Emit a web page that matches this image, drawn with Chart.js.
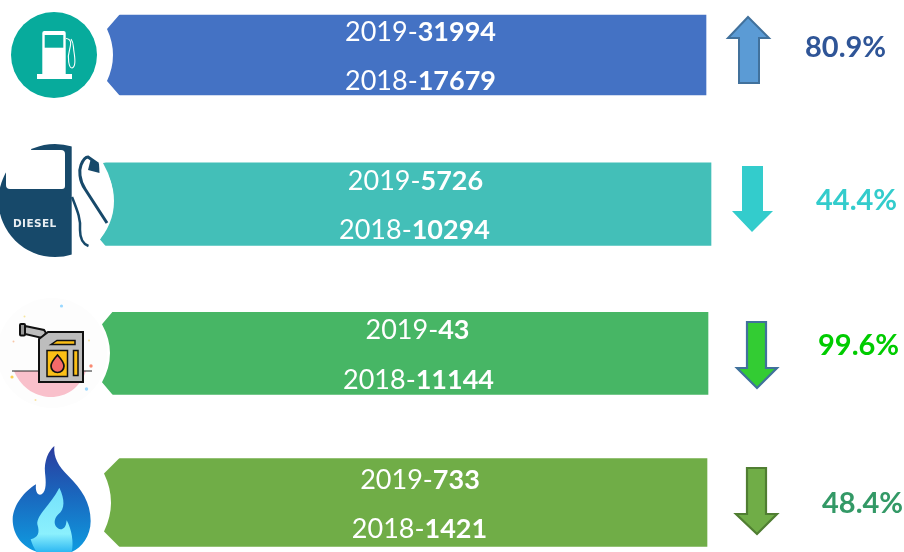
<!DOCTYPE html>
<html><head><meta charset="utf-8">
<style>html,body{margin:0;padding:0;background:#fff}#wrap{width:904px;height:552px;position:relative}</style>
<script src="https://cdn.jsdelivr.net/npm/chart.js@4"></script>
</head><body><div id="wrap"><canvas id="c" width="904" height="552"></canvas></div>
<script>
// ---- data ----
const categories = ['Petrol', 'Diesel', 'Furnace oil', 'Gas'];
const values2019 = [31994, 5726, 43, 733];
const values2018 = [17679, 10294, 11144, 1421];
const changeLabels = ['80.9%', '44.4%', '99.6%', '48.4%'];
const panelShare = [1, 1, 1, 1]; // every panel is a full-width label band, not a scaled bar

// ---- styling kept apart from the data ----
const panelColors = ['#4472c4', '#43bfb8', '#47b665', '#70ad47'];
const panelHeights = [80, 82.5, 82, 88];
const panelRightInset = [5, 0, 3, 4];
const notches = [
  {tipX:107, chamX:120, chamY:14, bulge:113},
  {tipX:100, chamX:106, chamY:6,  bulge:114},
  {tipX:102, chamX:113, chamY:12, bulge:110},
  {tipX:104, chamX:120, chamY:15, bulge:111}
];
const textCenters = [[420.5,420.5],[415.5,414.5],[417.5,418.5],[420,419.5]];
const textOffsets = [[-23,26],[-23,26],[-23,27],[-23,26]];
const pctStyle = [
  {x:805, y:48,  c:'#2f5597'},
  {x:816, y:201, c:'#33cccc'},
  {x:818, y:346, c:'#00cc00'},
  {x:822, y:504, c:'#339966'}
];
const arrowStyle = [
  {sx:[739,759], hx:[728,769], tail:83,  head:38,  tip:[748,17],  fill:'#5b9bd5', stroke:'#41719c', lw:2},
  {sx:[742,763], hx:[732,773], tail:166, head:211, tip:[752,232], fill:'#33cccc', stroke:null, lw:0},
  {sx:[747,766], hx:[737,777], tail:322, head:368, tip:[757,388], fill:'#33cc33', stroke:'#41719c', lw:2.2},
  {sx:[747,766], hx:[736,777], tail:468, head:514, tip:[757,534], fill:'#70ad47', stroke:'#507e32', lw:2.2}
];
const FONT = 'Lato';
const TEXT_SIZE = 27;
const PCT_SIZE = 29;

function poly(ctx, pts){ ctx.beginPath(); pts.forEach((p,i)=> i?ctx.lineTo(p[0],p[1]):ctx.moveTo(p[0],p[1])); ctx.closePath(); }

function drawIcons(ctx){
  // 1. petrol pump
  ctx.fillStyle='#07ab9c'; ctx.beginPath(); ctx.arc(54,55,43,0,Math.PI*2); ctx.fill();
  ctx.fillStyle='#fff';
  ctx.beginPath(); ctx.roundRect(42.3,31,23.4,44,[2,2,0,0]); ctx.fill();
  ctx.fillRect(37,74,35,5);
  ctx.fillStyle='#07ab9c'; ctx.fillRect(44.7,35,18.6,12.7);
  ctx.strokeStyle='#fff'; ctx.lineWidth=1.1;
  ctx.beginPath(); ctx.moveTo(66,38.5); ctx.bezierCurveTo(72,39,71,44,69.5,50); ctx.bezierCurveTo(67,58,69,68,72,68); ctx.bezierCurveTo(76,67,75,58,74,52); ctx.bezierCurveTo(73,46,74,43,71,39); ctx.stroke();

  // 2. diesel pump
  ctx.fillStyle='#fff'; ctx.beginPath(); ctx.arc(55,201,59,0,Math.PI*2); ctx.fill();
  ctx.save(); ctx.beginPath(); ctx.rect(0,140,71.7,120); ctx.clip();
  ctx.fillStyle='#17496a'; ctx.beginPath(); ctx.arc(55,200.5,56.5,0,Math.PI*2); ctx.fill();
  ctx.fillStyle='#fff'; ctx.beginPath(); ctx.roundRect(6,150,59,39,[0,4,3,4]); ctx.fill();
  ctx.fillRect(0,140,31,32);
  ctx.restore();
  ctx.strokeStyle='#17496a'; ctx.lineCap='butt'; ctx.lineWidth=2.5;
  ctx.beginPath(); ctx.moveTo(72,197); ctx.bezierCurveTo(78,212,81,220,80,230); ctx.bezierCurveTo(80,238,83,244,88.5,246); ctx.stroke();
  ctx.lineWidth=3;
  ctx.beginPath(); ctx.moveTo(107,223); ctx.lineTo(85,189); ctx.bezierCurveTo(79,180,79,170,81,165); ctx.bezierCurveTo(83,160,85,157,88,157); ctx.lineTo(98,164); ctx.stroke();
  ctx.fillStyle='#17496a'; poly(ctx,[[88,170],[90.5,160],[99,163.5],[99.5,173]]); ctx.fill();
  ctx.fillStyle='#e8eef2'; ctx.font='bold 10.5px "DejaVu Sans"'; ctx.textAlign='left'; ctx.textBaseline='middle';
  ctx.letterSpacing='0.4px'; ctx.fillText('DIESEL',13,224); ctx.letterSpacing='0px';

  // 3. jerry can
  ctx.fillStyle='#fdfdfd'; ctx.beginPath(); ctx.arc(52,353,55,0,Math.PI*2); ctx.fill();
  ctx.fillStyle='#f9c0cb'; ctx.beginPath(); ctx.moveTo(14,371); ctx.bezierCurveTo(22,390,38,397,51,397); ctx.bezierCurveTo(66,397,80,388,86,371); ctx.closePath(); ctx.fill();
  ctx.strokeStyle='#222'; ctx.lineWidth=1; ctx.beginPath(); ctx.moveTo(12,371); ctx.lineTo(92,371); ctx.stroke();
  ctx.strokeStyle='#111'; ctx.lineWidth=2; ctx.fillStyle='#bdbdbd';
  poly(ctx,[[25,326],[44,330],[46,333],[42,338],[25,334]]); ctx.fill(); ctx.stroke();
  ctx.fillStyle='#999'; ctx.beginPath(); ctx.roundRect(20,324,5,11.5,1); ctx.fill(); ctx.stroke();
  ctx.fillStyle='#bdbdbd'; poly(ctx,[[39,339],[48,332],[83,332],[83,382],[39,382]]); ctx.fill(); ctx.stroke();
  ctx.fillStyle='#fbbf16'; ctx.lineWidth=1.5; ctx.fillRect(47,350.5,20.5,26); ctx.strokeRect(47,350.5,20.5,26);
  ctx.fillRect(73.5,350.5,4.5,25); ctx.strokeRect(73.5,350.5,4.5,25);
  poly(ctx,[[51,344.5],[57,340.5],[75,340.5],[75,344.5]]); ctx.fill(); ctx.stroke();
  ctx.fillStyle='#f46a6a'; ctx.lineWidth=1.7; ctx.beginPath(); ctx.moveTo(57.5,355); ctx.bezierCurveTo(62,360,64,363,64,366); ctx.arc(57.5,366,6.5,0,Math.PI); ctx.bezierCurveTo(51,363,53,360,57.5,355); ctx.closePath(); ctx.fill(); ctx.stroke();
  [[61.5,306,'#9ad8ff',1.6],[24.5,316.5,'#f5e6a0',1],[13.5,341.5,'#f7c6a8',1],[89,340.5,'#f9e3a0',1],[91,366,'#f98a72',1.7],[12,377,'#fcd050',1.6],[86.5,389,'#9ad8ff',1.7],[35.5,400,'#f9e3a0',1]].forEach(d=>{ctx.fillStyle=d[2];ctx.beginPath();ctx.arc(d[0],d[1],d[3],0,Math.PI*2);ctx.fill();});

  // 4. flame
  ctx.save(); ctx.translate(0,276); ctx.scale(1/3,1/3);
  const g=ctx.createLinearGradient(0,510,0,828);
  g.addColorStop(0,'#2b3c9e'); g.addColorStop(0.45,'#1a66bd'); g.addColorStop(1,'#0f9be0');
  ctx.fillStyle=g; ctx.beginPath(); ctx.moveTo(163,510);
  ctx.bezierCurveTo(160,545,175,570,205,600);
  ctx.bezierCurveTo(245,640,272,680,272,735);
  ctx.bezierCurveTo(272,780,245,815,215,828);
  ctx.lineTo(112,828);
  ctx.bezierCurveTo(70,815,38,780,38,730);
  ctx.bezierCurveTo(40,685,75,645,108,625);
  ctx.bezierCurveTo(105,650,115,660,125,655);
  ctx.bezierCurveTo(140,645,138,615,135,590);
  ctx.bezierCurveTo(132,555,145,525,163,510); ctx.closePath(); ctx.fill();
  const g2=ctx.createLinearGradient(0,635,0,828);
  g2.addColorStop(0,'#74e2fb'); g2.addColorStop(0.72,'#8bf0fd'); g2.addColorStop(1,'#2eb8f2');
  ctx.fillStyle=g2; ctx.beginPath(); ctx.moveTo(178,635);
  ctx.bezierCurveTo(195,670,195,700,175,715);
  ctx.bezierCurveTo(155,735,165,760,185,760);
  ctx.bezierCurveTo(198,755,198,745,200,733);
  ctx.bezierCurveTo(215,760,222,800,215,828);
  ctx.lineTo(110,828);
  ctx.bezierCurveTo(100,815,95,800,92,790);
  ctx.bezierCurveTo(115,785,120,770,112,745);
  ctx.bezierCurveTo(110,715,150,690,178,635); ctx.closePath(); ctx.fill();
  ctx.restore();
}

function drawRichLine(ctx, year, value, cx, y){
  const a = year + '-', b = String(value);
  ctx.textBaseline='alphabetic'; ctx.textAlign='left'; ctx.fillStyle='#fff';
  ctx.font='400 '+TEXT_SIZE+'px '+FONT; const wa=ctx.measureText(a).width;
  ctx.font='700 '+TEXT_SIZE+'px '+FONT; const wb=ctx.measureText(b).width;
  const x=cx-(wa+wb)/2;
  ctx.font='400 '+TEXT_SIZE+'px '+FONT; ctx.fillText(a,x,y);
  ctx.font='700 '+TEXT_SIZE+'px '+FONT; ctx.fillText(b,x+wa,y);
}

const infographic = {
  id:'infographic',
  afterDatasetsUpdate(chart){
    chart.getDatasetMeta(0).data.forEach((el,i)=>{
      el.height = panelHeights[i];
      el.x = el.x - panelRightInset[i];
    });
  },
  afterDatasetsDraw(chart){
    const ctx=chart.ctx, els=chart.getDatasetMeta(0).data;
    ctx.save();
    // concave, chamfered left ends of the panels
    els.forEach((el,i)=>{
      const n=notches[i], top=el.y-panelHeights[i]/2, bot=el.y+panelHeights[i]/2;
      ctx.fillStyle='#fff'; ctx.beginPath();
      ctx.moveTo(el.base-2,top-1); ctx.lineTo(n.chamX,top-1);
      if(i===1){
        ctx.lineTo(103,top);
        ctx.quadraticCurveTo(125,el.y-3,n.tipX,bot-n.chamY);
      } else {
        ctx.lineTo(n.tipX,top+n.chamY);
        ctx.quadraticCurveTo(2*n.bulge-n.tipX,el.y,n.tipX,bot-n.chamY);
      }
      ctx.lineTo(n.chamX,bot+1); ctx.lineTo(el.base-2,bot+1); ctx.closePath(); ctx.fill();
    });
    drawIcons(ctx);
    // panel texts
    els.forEach((el,i)=>{
      drawRichLine(ctx,2019,values2019[i],textCenters[i][0],el.y+textOffsets[i][0]+9);
      drawRichLine(ctx,2018,values2018[i],textCenters[i][1],el.y+textOffsets[i][1]+9);
    });
    // change arrows
    arrowStyle.forEach(a=>{
      poly(ctx,[[a.sx[0],a.tail],[a.sx[1],a.tail],[a.sx[1],a.head],[a.hx[1],a.head],a.tip,[a.hx[0],a.head],[a.sx[0],a.head]]);
      ctx.fillStyle=a.fill; ctx.fill();
      if(a.stroke){ctx.strokeStyle=a.stroke; ctx.lineWidth=a.lw; ctx.lineJoin='miter'; ctx.stroke();}
    });
    // change percentages
    ctx.textAlign='left'; ctx.textBaseline='middle'; ctx.font='700 '+PCT_SIZE+'px '+FONT;
    changeLabels.forEach((t,i)=>{ctx.fillStyle=pctStyle[i].c; ctx.fillText(t,pctStyle[i].x,pctStyle[i].y);});
    ctx.restore();
  }
};

new Chart(document.getElementById('c'),{
  type:'bar',
  data:{labels:categories,datasets:[{data:panelShare,backgroundColor:panelColors,borderWidth:0,barThickness:82,clip:false}]},
  options:{
    indexAxis:'y',responsive:false,animation:false,
    layout:{padding:{left:100,right:193,top:55,bottom:49.5}},
    plugins:{legend:{display:false},tooltip:{enabled:false},title:{display:false}},
    scales:{
      x:{display:false,min:0,max:1},
      y:{display:false,offset:false,grid:{display:false}}
    }
  },
  plugins:[infographic]
});
</script></body></html>
